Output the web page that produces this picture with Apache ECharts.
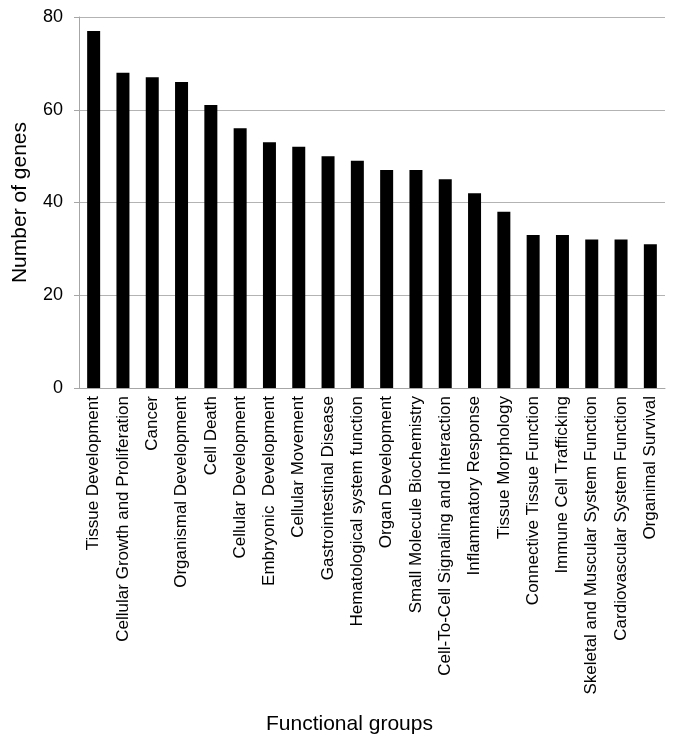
<!DOCTYPE html>
<html>
<head>
<meta charset="utf-8">
<script src="https://cdn.jsdelivr.net/npm/echarts@6/dist/echarts.min.js"></script>
<style>
  html, body { margin: 0; padding: 0; background: #fff; }
  #chart { width: 685px; height: 751px; }
</style>
</head>
<body>
<div id="chart"></div>
<script>
var categories = [
  'Tissue Development', 'Cellular Growth and Proliferation', 'Cancer',
  'Organismal Development', 'Cell Death', 'Cellular Development',
  'Embryonic  Development', 'Cellular Movement', 'Gastrointestinal Disease',
  'Hematological system function', 'Organ Development',
  'Small Molecule Biochemistry', 'Cell-To-Cell Signaling and Interaction',
  'Inflammatory Response', 'Tissue Morphology', 'Connective Tissue Function',
  'Immune Cell Trafficking', 'Skeletal and Muscular System Function',
  'Cardiovascular System Function', 'Organimal Survival'
];
var geneCounts = [77, 68, 67, 66, 61, 56, 53, 52, 50, 49, 47, 47, 45, 42, 38, 33, 33, 32, 32, 31];
var yTicks = [0, 20, 40, 60, 80];

var font = '"Liberation Sans", Arial, sans-serif';

var myChart = echarts.init(document.getElementById('chart'));
var option = {
  animation: false,
  grid: { left: 79, right: 20, top: 17, bottom: 363, containLabel: false },
  xAxis: {
    type: 'category',
    data: categories,
    axisLine: { lineStyle: { color: '#a6a6a6', width: 1 } },
    axisTick: { show: false },
    axisLabel: {
      rotate: 90, interval: 0, margin: 8,
      color: '#000', fontSize: 17, fontFamily: font
    }
  },
  yAxis: {
    type: 'value',
    min: yTicks[0],
    max: yTicks[yTicks.length - 1],
    interval: 20,
    name: 'Number of genes',
    nameLocation: 'middle',
    nameGap: 48,
    nameTextStyle: { color: '#000', fontSize: 21, fontFamily: font },
    axisLine: { show: true, lineStyle: { color: '#a6a6a6' } },
    axisTick: { show: true, length: 5, lineStyle: { color: '#a6a6a6' } },
    axisLabel: { color: '#000', fontSize: 18, fontFamily: font, margin: 16 },
    splitLine: { lineStyle: { color: '#b3b3b3', width: 1 } }
  },
  graphic: [{
    type: 'text',
    left: 266,
    top: 714,
    style: { text: 'Functional groups', fill: '#000', fontSize: 21, fontFamily: font }
  }],
  series: [{
    type: 'bar',
    data: geneCounts,
    barWidth: 13,
    itemStyle: { color: '#000' }
  }]
};
myChart.setOption(option);
</script>
</body>
</html>
